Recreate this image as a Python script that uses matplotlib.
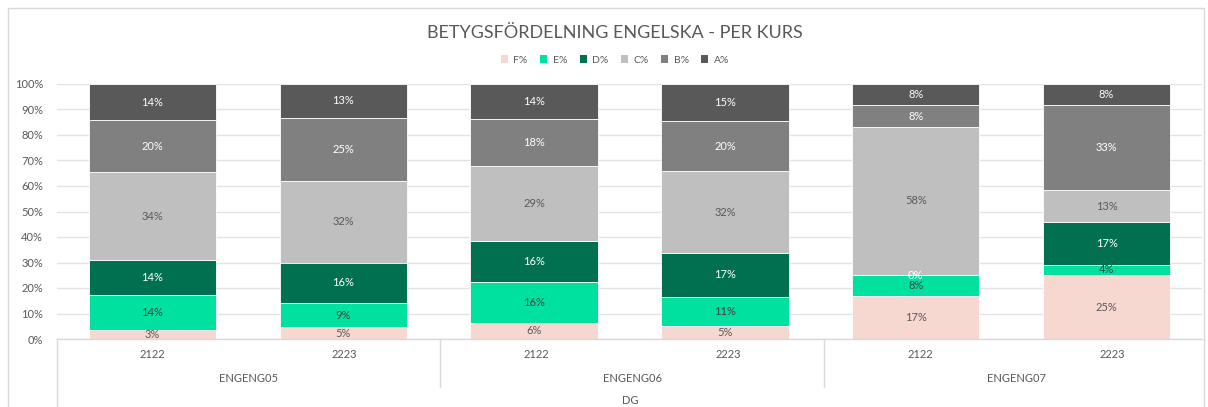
import matplotlib
matplotlib.use("Agg")
import matplotlib.pyplot as plt
from matplotlib.lines import Line2D
from matplotlib.patches import Rectangle, Patch
import numpy as np

plt.rcParams['font.family'] = ['Lato', 'DejaVu Sans']

years = ["2122", "2223", "2122", "2223", "2122", "2223"]
courses = ["ENGENG05", "ENGENG06", "ENGENG07"]
axis_title = "DG"
title = "BETYGSFÖRDELNING ENGELSKA - PER KURS"
grades = ["F%", "E%", "D%", "C%", "B%", "A%"]

F = [3.4, 4.7, 6.3, 5.1, 16.7, 25.0]
E = [13.8, 9.3, 15.9, 11.4, 8.3, 4.2]
D = [13.8, 16.0, 16.4, 17.3, 0.0, 16.7]
C = [34.4, 32.0, 29.2, 31.9, 58.3, 12.5]
B = [20.3, 24.7, 18.4, 19.6, 8.3, 33.3]
A = [14.3, 13.3, 13.8, 14.7, 8.3, 8.3]

colors = ["#F6D8D0", "#00E09E", "#007050", "#BFBFBF", "#808080", "#595959"]
label_colors = ["#595959", "#404040", "#FFFFFF", "#595959", "#FFFFFF", "#FFFFFF"]

W, H = 1208, 407
fig = plt.figure(figsize=(W / 100, H / 100), dpi=100)

def fx(px):
    return px / W

def fy(py):
    return 1 - py / H

# outer border
fig.add_artist(Rectangle((fx(8), fy(420)), fx(1196), fy(8) - fy(420),
                         transform=fig.transFigure, fill=False,
                         edgecolor="#D9D9D9", linewidth=1))

ax = fig.add_axes([fx(57), fy(339), fx(1202) - fx(57), fy(84) - fy(339)])

series = [F, E, D, C, B, A]
x = np.arange(len(years))
bottom = np.zeros(len(years))
for vals, col, lc in zip(series, colors, label_colors):
    vals = np.array(vals)
    ax.bar(x, vals, 0.667, bottom=bottom, color=col, edgecolor="white",
           linewidth=0.6, zorder=3)
    for xi, v, b in zip(x, vals, bottom):
        lbl = f"{int(v + 0.5)}%"
        ax.text(xi, b + v / 2, lbl, ha="center", va="center",
                fontsize=8, color=lc, zorder=4)
    bottom = bottom + vals

ax.set_xlim(-0.5, len(years) - 0.5)
ax.set_ylim(0, 100)
ax.set_yticks(np.arange(0, 101, 10))
ax.set_yticklabels([f"{t}%" for t in range(0, 101, 10)])
ax.tick_params(axis="y", length=0, labelsize=8, labelcolor="#595959", pad=10)
ax.set_xticks([])
ax.grid(axis="y", color="#E3E3E3", linewidth=1, zorder=0)
for s in ["top", "right", "left", "bottom"]:
    ax.spines[s].set_visible(False)

# category axis
fig.add_artist(Line2D([fx(57), fx(1202)], [fy(339), fy(339)],
                      transform=fig.transFigure, color="#D9D9D9", linewidth=1))
fig.add_artist(Line2D([fx(57), fx(57)], [fy(339), fy(407)],
                      transform=fig.transFigure, color="#D9D9D9", linewidth=1))
for sx in [440, 824]:
    fig.add_artist(Line2D([fx(sx), fx(sx)], [fy(339), fy(387)],
                          transform=fig.transFigure, color="#D9D9D9", linewidth=1))

for i, yr in enumerate(years):
    cx = 152 + 192 * i
    fig.text(fx(cx), fy(355), yr, ha="center", va="center",
             fontsize=8, color="#595959")
for j, c in enumerate(courses):
    cx = 248 + 384 * j
    fig.text(fx(cx), fy(378), c, ha="center", va="center",
             fontsize=8, color="#595959")
fig.text(fx(630), fy(400), axis_title, ha="center", va="center",
         fontsize=8, color="#595959")

fig.text(fx(615), fy(33), title, ha="center", va="center",
         fontsize=13, color="#595959")

handles = [Patch(facecolor=c, edgecolor="none") for c in colors]
leg = fig.legend(handles, grades, loc="center", bbox_to_anchor=(fx(615), fy(60)),
                 ncol=6, frameon=False, fontsize=7.5, handlelength=0.7,
                 handleheight=0.7, handletextpad=0.5, columnspacing=1.2)
for t in leg.get_texts():
    t.set_color("#595959")

fig.savefig("out.png", dpi=100)
